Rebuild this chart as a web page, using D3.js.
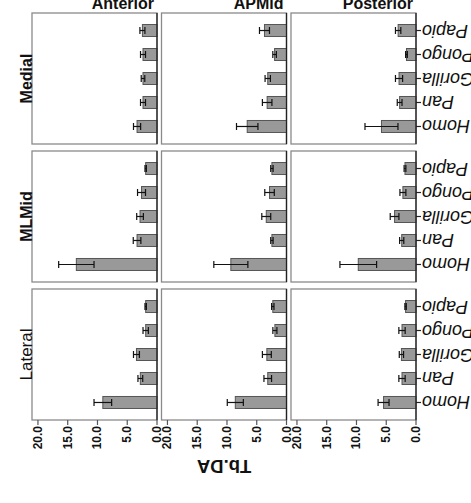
<!DOCTYPE html>
<html>
<head>
<meta charset="utf-8">
<script src="https://cdn.jsdelivr.net/npm/d3@7"></script>
<style>
  html, body { margin: 0; padding: 0; background: #fff; }
  svg { display: block; font-family: "Liberation Sans", Arial, sans-serif; }
</style>
</head>
<body>
<svg id="chart" width="471" height="503"></svg>
<script>
// Facets
const rowNames = ["Medial", "MLMid", "Lateral"];
const colNames = ["Anterior", "APMid", "Posterior"];
const species = ["Homo", "Pan", "Gorilla", "Pongo", "Papio"];
const tickValues = [0, 5, 10, 15, 20];

// Mean Tb.DA per species (Homo, Pan, Gorilla, Pongo, Papio), one array per column
const medialMeans = [
  [3.35, 2.35, 2.35, 2.35, 2.45],
  [6.6, 3.25, 3.15, 2.0, 3.7],
  [5.8, 2.75, 2.85, 1.6, 3.0]
];
const medialErrors = [
  [0.6, 0.42, 0.3, 0.42, 0.42],
  [1.8, 0.8, 0.45, 0.3, 0.84],
  [2.77, 0.4, 0.6, 0.15, 0.45]
];
const mlmidMeans = [
  [13.55, 3.35, 2.85, 2.6, 1.9],
  [9.35, 2.45, 3.4, 2.85, 2.45],
  [9.7, 2.4, 3.6, 2.2, 1.85]
];
const mlmidErrors = [
  [2.97, 0.64, 0.56, 0.67, 0.12],
  [2.86, 0.2, 0.75, 0.8, 0.2],
  [3.08, 0.35, 0.73, 0.5, 0.15]
];
const lateralMeans = [
  [9.1, 2.8, 3.45, 1.9, 1.9],
  [8.6, 3.15, 3.3, 1.95, 2.3],
  [5.45, 2.35, 2.45, 2.35, 1.75]
];
const lateralErrors = [
  [1.48, 0.4, 0.5, 0.45, 0.12],
  [1.35, 0.64, 0.75, 0.34, 0.2],
  [0.92, 0.53, 0.36, 0.53, 0.12]
];
const meansByRow = [medialMeans, mlmidMeans, lateralMeans];
const errorsByRow = [medialErrors, mlmidErrors, lateralErrors];

// Layout
const svg = d3.select("#chart");
const panelW = 125, panelH = 131;
const colX = d3.scalePoint().domain(colNames).range([32, 291]);
const rowY = d3.scalePoint().domain(rowNames).range([13, 289]);

// Value axis runs right-to-left from the category axis
const x = d3.scaleLinear().domain([0, 21]).range([panelW, 0]);
// Categories stacked top-to-bottom: Papio ... Homo
const y = d3.scalePoint().domain(species.slice().reverse()).range([0, panelH]).padding(0.73);
const barH = 12, capH = 7;

rowNames.forEach((rowName, ri) => {
  colNames.forEach((colName, ci) => {
    const g = svg.append("g")
      .attr("transform", `translate(${colX(colName)},${rowY(rowName)})`);

    const data = species.map((s, i) => ({
      s, mean: meansByRow[ri][ci][i], err: errorsByRow[ri][ci][i]
    }));

    // panel frame
    g.append("rect")
      .attr("x", 0).attr("y", 0).attr("width", panelW).attr("height", panelH)
      .attr("fill", "#fff").attr("stroke", "#8a8a8a").attr("stroke-width", 1.3);

    // bars
    g.selectAll("rect.bar").data(data).join("rect")
      .attr("class", "bar")
      .attr("x", d => x(d.mean))
      .attr("y", d => y(d.s) - barH / 2)
      .attr("width", d => x(0) - x(d.mean))
      .attr("height", barH)
      .attr("fill", "#999999")
      .attr("stroke", "#555")
      .attr("stroke-width", 1);

    // error bars
    const eb = g.selectAll("g.err").data(data).join("g").attr("class", "err")
      .attr("stroke", "#111").attr("stroke-width", 1.2);
    eb.append("line")
      .attr("x1", d => x(d.mean - d.err)).attr("x2", d => x(d.mean + d.err))
      .attr("y1", d => y(d.s)).attr("y2", d => y(d.s));
    eb.append("line")
      .attr("x1", d => x(d.mean - d.err)).attr("x2", d => x(d.mean - d.err))
      .attr("y1", d => y(d.s) - capH / 2).attr("y2", d => y(d.s) + capH / 2);
    eb.append("line")
      .attr("x1", d => x(d.mean + d.err)).attr("x2", d => x(d.mean + d.err))
      .attr("y1", d => y(d.s) - capH / 2).attr("y2", d => y(d.s) + capH / 2);

    // category axis line (zero line)
    g.append("line")
      .attr("x1", x(0)).attr("x2", x(0)).attr("y1", 0).attr("y2", panelH)
      .attr("stroke", "#222").attr("stroke-width", 1.3);

    // category labels on the right of the last column
    if (ci === colNames.length - 1) {
      const lab = g.selectAll("g.cat").data(species).join("g").attr("class", "cat")
        .attr("transform", d => `translate(${panelW},${y(d)})`);
      lab.append("line").attr("x1", 0).attr("x2", 5).attr("y1", 0).attr("y2", 0)
        .attr("stroke", "#222").attr("stroke-width", 1.2);
      lab.append("text")
        .attr("transform", "translate(6,0) rotate(180)")
        .attr("text-anchor", "end")
        .attr("dominant-baseline", "central")
        .attr("font-size", 18)
        .attr("font-style", "italic")
        .attr("fill", "#111")
        .text(d => d);
    }

    // value axis under the bottom row
    if (ri === rowNames.length - 1) {
      const ax = g.selectAll("g.tick").data(tickValues).join("g").attr("class", "tick")
        .attr("transform", d => `translate(${x(d)},${panelH})`);
      ax.append("line").attr("y1", 0).attr("y2", 5)
        .attr("stroke", "#555").attr("stroke-width", 1.2);
      ax.append("text")
        .attr("transform", "translate(0,6) rotate(-90)")
        .attr("text-anchor", "end")
        .attr("dominant-baseline", "central")
        .attr("font-size", 12)
        .attr("font-weight", "bold")
        .attr("fill", "#111")
        .text(d => d3.format(".1f")(d));
    }
  });
});

// column titles
svg.selectAll("text.col").data(colNames).join("text")
  .attr("class", "col")
  .attr("x", d => colX(d) + panelW - 3)
  .attr("y", 9)
  .attr("text-anchor", "end")
  .attr("font-size", 16)
  .attr("font-weight", "bold")
  .attr("fill", "#111")
  .text(d => d);

// row titles
svg.selectAll("text.row").data(rowNames).join("text")
  .attr("class", "row")
  .attr("transform", d => `translate(32,${rowY(d) + panelH / 2}) rotate(-90)`)
  .attr("text-anchor", "middle")
  .attr("font-size", d => d === "Lateral" ? 17 : 16)
  .attr("font-weight", d => d === "Lateral" ? "normal" : "bold")
  .attr("fill", "#111")
  .text(d => d);

// value axis title
svg.append("text")
  .attr("transform", `translate(224,460) rotate(180)`)
  .attr("text-anchor", "middle")
  .attr("font-size", 18.5)
  .attr("font-weight", "bold")
  .attr("fill", "#111")
  .text("Tb.DA");
</script>
</body>
</html>
